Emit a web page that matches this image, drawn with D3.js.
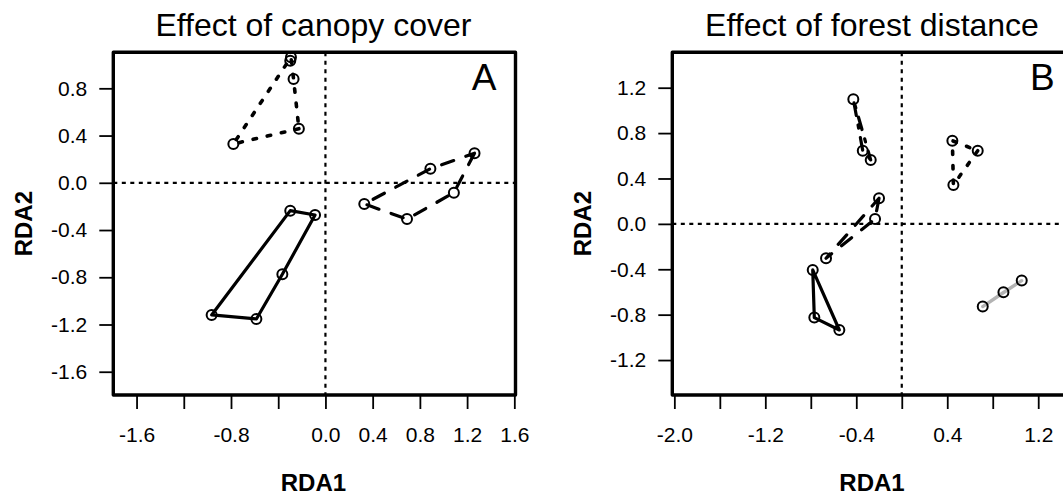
<!DOCTYPE html>
<html>
<head>
<meta charset="utf-8">
<script src="https://cdn.jsdelivr.net/npm/d3@7"></script>
<style>
  html, body { margin: 0; padding: 0; background: #fff; }
  svg { display: block; }
  text { font-family: "Liberation Sans", Arial, Helvetica, sans-serif; fill: #000; }
</style>
</head>
<body>
<svg id="chart" width="1063" height="499"></svg>
<script>
// ---- Panel A: effect of canopy cover (RDA site scores, grouped) ----
const canopyTitle = "Effect of canopy cover";
const canopyXTicks = [-1.6, -1.2, -0.8, -0.4, 0.0, 0.4, 0.8, 1.2, 1.6];
const canopyXLabels = ["-1.6", "", "-0.8", "", "0.0", "0.4", "0.8", "1.2", "1.6"];
const canopyYTicks = [-1.6, -1.2, -0.8, -0.4, 0.0, 0.4, 0.8];
const canopyYLabels = ["-1.6", "-1.2", "-0.8", "-0.4", "0.0", "0.4", "0.8"];

const canopySolidRDA1 = [-0.298, -0.088, -0.365, -0.964, -0.585];
const canopySolidRDA2 = [-0.236, -0.273, -0.775, -1.119, -1.153];
const canopyDashedRDA1 = [0.329, 0.691, 1.088, 1.263, 0.889];
const canopyDashedRDA2 = [-0.179, -0.307, -0.084, 0.250, 0.119];
const canopyDottedRDA1 = [-0.780, -0.292, -0.298, -0.270, -0.225];
const canopyDottedRDA2 = [0.329, 1.063, 1.034, 0.879, 0.458];

// ---- Panel B: effect of forest distance ----
const distanceTitle = "Effect of forest distance";
const distanceXTicks = [-2.0, -1.6, -1.2, -0.8, -0.4, 0.0, 0.4, 0.8, 1.2, 1.6];
const distanceXLabels = ["-2.0", "", "-1.2", "", "-0.4", "", "0.4", "", "1.2", ""];
const distanceYTicks = [-1.2, -0.8, -0.4, 0.0, 0.4, 0.8, 1.2];
const distanceYLabels = ["-1.2", "-0.8", "-0.4", "0.0", "0.4", "0.8", "1.2"];

const distanceSolidRDA1 = [-0.783, -0.769, -0.549];
const distanceSolidRDA2 = [-0.406, -0.826, -0.935];
const distanceDashedRDA1 = [-0.200, -0.235, -0.666];
const distanceDashedRDA2 = [0.226, 0.043, -0.303];
const distanceDottedRDA1 = [0.445, 0.668, 0.454];
const distanceDottedRDA2 = [0.733, 0.645, 0.343];
const distanceDotDashRDA1 = [-0.426, -0.343, -0.273];
const distanceDotDashRDA2 = [1.098, 0.645, 0.563];
const distanceGreyRDA1 = [0.712, 0.894, 1.055];
const distanceGreyRDA2 = [-0.729, -0.603, -0.500];

// Line styles for the hull outlines
const LINE_STYLES = {
  solid:   { color: "#000", dash: null,                 width: 3.2 },
  dashed:  { color: "#000", dash: "12.8,12.8",          width: 3.2 },
  dotted:  { color: "#000", dash: "3.5,11",             width: 3.6 },
  dotdash: { color: "#000", dash: "3.2,9.6,12.8,9.6",   width: 3.2 },
  grey:    { color: "#b3b3b3", dash: null,              width: 3.2 }
};

const zip = (xs, ys) => xs.map((x, i) => [x, ys[i]]);

const svg = d3.select("#chart");

function drawPanel(cfg) {
  const x = d3.scaleLinear().domain(cfg.xDomain).range(cfg.xRange);
  const y = d3.scaleLinear().domain(cfg.yDomain).range(cfg.yRange);
  const g = svg.append("g");
  const [x0, x1] = cfg.xRange;
  const [y1, y0] = cfg.yRange; // y1 bottom, y0 top

  // zero reference lines
  g.append("line")
    .attr("x1", x(0)).attr("x2", x(0)).attr("y1", y0).attr("y2", y1)
    .attr("stroke", "#000").attr("stroke-width", 2.2).attr("stroke-dasharray", "4,4.5");
  g.append("line")
    .attr("x1", x0).attr("x2", x1).attr("y1", y(0)).attr("y2", y(0))
    .attr("stroke", "#000").attr("stroke-width", 2.2).attr("stroke-dasharray", "4,4.5");

  // group hulls and site points
  const line = d3.line().x(d => x(d[0])).y(d => y(d[1])).curve(d3.curveLinearClosed);
  cfg.groups.forEach(grp => {
    const pts = zip(grp.rda1, grp.rda2);
    const hull = d3.polygonHull(pts);
    const st = LINE_STYLES[grp.style];
    g.append("path")
      .attr("d", line(hull))
      .attr("fill", "none")
      .attr("stroke", st.color)
      .attr("stroke-width", st.width)
      .attr("stroke-linecap", "round")
      .attr("stroke-linejoin", "round")
      .attr("stroke-dasharray", st.dash);
  });
  cfg.groups.forEach(grp => {
    g.selectAll(null)
      .data(zip(grp.rda1, grp.rda2))
      .enter().append("circle")
      .attr("cx", d => x(d[0]))
      .attr("cy", d => y(d[1]))
      .attr("r", 5)
      .attr("fill", "none")
      .attr("stroke", "#000")
      .attr("stroke-width", 2);
  });

  // axes
  const xAxis = d3.axisBottom(x)
    .tickValues(cfg.xTicks)
    .tickFormat((d, i) => cfg.xLabels[i])
    .tickSize(14).tickSizeOuter(0).tickPadding(18);
  const ax = g.append("g").attr("transform", `translate(0,${y1})`).call(xAxis);
  const yAxis = d3.axisLeft(y)
    .tickValues(cfg.yTicks)
    .tickFormat((d, i) => cfg.yLabels[i])
    .tickSize(14).tickSizeOuter(0).tickPadding(12);
  const ay = g.append("g").attr("transform", `translate(${x0},0)`).call(yAxis);
  [ax, ay].forEach(a => {
    a.select(".domain").remove();
    a.selectAll(".tick line").attr("stroke", "#000").attr("stroke-width", 1.8);
    a.selectAll(".tick text")
      .attr("font-size", 21)
      .attr("font-family", "'Liberation Sans', Arial, sans-serif")
      .attr("fill", "#000");
  });

  // frame
  g.append("rect")
    .attr("x", x0).attr("y", y0)
    .attr("width", x1 - x0).attr("height", y1 - y0)
    .attr("fill", "none").attr("stroke", "#000").attr("stroke-width", 3.4)
    .attr("stroke-linejoin", "round");

  // titles and labels
  const cx = (x0 + x1) / 2;
  g.append("text")
    .attr("x", cx - 1).attr("y", 36)
    .attr("text-anchor", "middle").attr("font-size", 32)
    .text(cfg.title);
  g.append("text")
    .attr("x", cx - 1).attr("y", 491)
    .attr("text-anchor", "middle").attr("font-size", 24).attr("font-weight", "bold")
    .text("RDA1");
  g.append("text")
    .attr("transform", `translate(${x0 - 90},${(y0 + y1) / 2}) rotate(-90)`)
    .attr("dy", "0.36em")
    .attr("text-anchor", "middle").attr("font-size", 24).attr("font-weight", "bold")
    .text("RDA2");
  g.append("text")
    .attr("x", x1 - 19).attr("y", y0 + 38)
    .attr("text-anchor", "end").attr("font-size", 37)
    .text(cfg.letter);
}

drawPanel({
  title: canopyTitle, letter: "A",
  xDomain: [-1.797, 1.61], xRange: [113.3, 515.5],
  yDomain: [-1.797, 1.105], yRange: [395, 52.3],
  xTicks: canopyXTicks, xLabels: canopyXLabels,
  yTicks: canopyYTicks, yLabels: canopyYLabels,
  groups: [
    { rda1: canopySolidRDA1, rda2: canopySolidRDA2, style: "solid" },
    { rda1: canopyDashedRDA1, rda2: canopyDashedRDA2, style: "dashed" },
    { rda1: canopyDottedRDA1, rda2: canopyDottedRDA2, style: "dotted" }
  ]
});

drawPanel({
  title: distanceTitle, letter: "B",
  xDomain: [-2.018, 1.512], xRange: [672.3, 1073.7],
  yDomain: [-1.508, 1.512], yRange: [395, 52.3],
  xTicks: distanceXTicks, xLabels: distanceXLabels,
  yTicks: distanceYTicks, yLabels: distanceYLabels,
  groups: [
    { rda1: distanceSolidRDA1, rda2: distanceSolidRDA2, style: "solid" },
    { rda1: distanceDashedRDA1, rda2: distanceDashedRDA2, style: "dashed" },
    { rda1: distanceDottedRDA1, rda2: distanceDottedRDA2, style: "dotted" },
    { rda1: distanceDotDashRDA1, rda2: distanceDotDashRDA2, style: "dotdash" },
    { rda1: distanceGreyRDA1, rda2: distanceGreyRDA2, style: "grey" }
  ]
});
</script>
</body>
</html>
